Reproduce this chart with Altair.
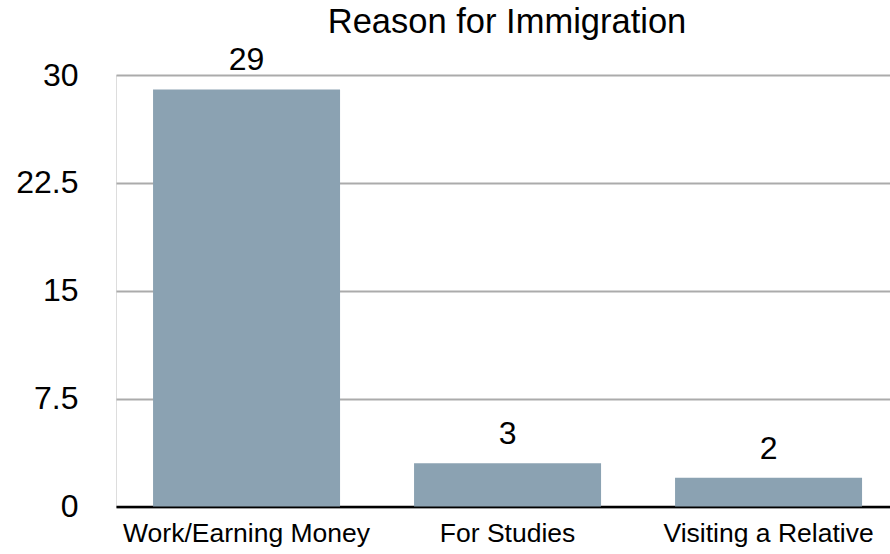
import altair as alt
import pandas as pd

categories = ["Work/Earning Money", "For Studies", "Visiting a Relative"]
counts = [29, 3, 2]
y_ticks = [0, 7.5, 15, 22.5, 30]

df = pd.DataFrame({"reason": categories, "count": counts})

FONT = "Liberation Sans"
BAR_COLOR = "#8BA2B2"

x_enc = alt.X(
    "reason:N",
    sort=categories,
    scale=alt.Scale(paddingInner=0.2835, paddingOuter=0.1245, align=0.57),
    axis=alt.Axis(
        title=None,
        labelAngle=0,
        labelFont=FONT,
        labelFontSize=26.5,
        labelColor="#000000",
        labelPadding=14,
        labelLimit=500,
        ticks=False,
        domain=True,
        domainColor="#000000",
        domainWidth=2.5,
        grid=False,
    ),
)
y_enc = alt.Y(
    "count:Q",
    scale=alt.Scale(domain=[0, 30], nice=False),
    axis=alt.Axis(
        title=None,
        values=y_ticks,
        labelExpr="'' + datum.value",
        labelFont=FONT,
        labelFontSize=32,
        labelColor="#000000",
        labelPadding=38,
        ticks=False,
        domain=False,
        domainOpacity=0,
        grid=True,
        gridColor="#ABABAB",
        gridWidth=2,
    ),
)

bars = alt.Chart(df).mark_bar(color=BAR_COLOR).encode(x=x_enc, y=y_enc)
labels = alt.Chart(df).mark_text(
    font=FONT, fontSize=32, color="#000000", baseline="alphabetic", dy=-19
).encode(x=alt.X("reason:N", sort=categories), y="count:Q", text="count:Q")

chart = (
    alt.layer(bars, labels)
    .properties(
        width=774,
        height=431.5,
        title=alt.TitleParams(
            "Reason for Immigration",
            font=FONT,
            fontSize=34.5,
            fontWeight="normal",
            color="#000000",
            baseline="alphabetic",
            frame="group",
            offset=13,
            dy=36,
            dx=4,
        ),
        autosize=alt.AutoSizeParams(type="none"),
        padding={"left": 116, "top": 75, "right": 0, "bottom": 47.5},
    )
    .configure_view(strokeWidth=0, stroke="transparent")
    .configure_axisY(domain=False, ticks=False)
    .configure_axisX(grid=False)
    .configure(background="#ffffff")
)

chart.save("out.html", embed_options={"renderer": "svg", "actions": False})
